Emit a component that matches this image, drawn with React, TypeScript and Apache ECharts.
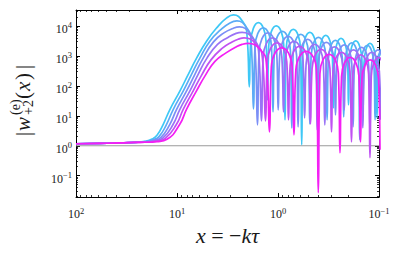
import React, { useEffect, useRef } from 'react';
import * as echarts from 'echarts';

// ---------- axes ----------
const X_RANGE = [0.1, 100];
const Y_RANGE = [0.0195, 34000];
const X_MAJOR = [0.1, 1, 10, 100];
const X_MAJOR_EXP = ['−1', '0', '1', '2'];
const X_MINOR = [0.2, 0.3, 0.4, 0.5, 0.6, 0.7, 0.8, 0.9, 2, 3, 4, 5, 6, 7, 8, 9, 20, 30, 40, 50, 60, 70, 80, 90];
const Y_MAJOR = [0.1, 1, 10, 100, 1000, 10000];
const Y_MAJOR_EXP = ['−1', '0', '1', '2', '3', '4'];
const Y_MINOR = [
  0.02, 0.03, 0.04, 0.05, 0.06, 0.07, 0.08, 0.09,
  0.2, 0.3, 0.4, 0.5, 0.6, 0.7, 0.8, 0.9,
  2, 3, 4, 5, 6, 7, 8, 9,
  20, 30, 40, 50, 60, 70, 80, 90,
  200, 300, 400, 500, 600, 700, 800, 900,
  2000, 3000, 4000, 5000, 6000, 7000, 8000, 9000,
  20000, 30000,
];

// ---------- reference line |w| = 1 ----------
const UNITY_X = [100, 0.1];
const UNITY_Y = 1;

// ---------- curves (x, |w|) ----------
const CURVE_COLORS = ['#3ec8f6', '#5cabf6', '#7b8ff6', '#9a73f6', '#c052f3', '#f41ff4'];

const W_0: [number, number][] = [
  [100, 1.166], [57.9, 1.202], [36.7, 1.24], [26.05, 1.298], [20.74, 1.413], [17.68, 1.672], [15.78, 2.239],
  [13.76, 5.01], [11.73, 16.5], [9.34, 68.1], [7.78, 232.6], [6.38, 858], [5.08, 3162], [4.05, 8577],
  [3.22, 18480], [2.76, 23260],
  [2.22, 13590], [2.032, 5412], [1.924, 92.6],
  [1.863, 2997], [1.564, 12880], [1.311, 2997], [1.27, 34.1],
  [1.233, 2326], [1.041, 10000], [0.878, 2326], [0.8525, 7.36],
  [0.8286, 1778], [0.7047, 7643], [0.5993, 1778], [0.5824, 1.08],
  [0.5668, 1413], [0.4838, 6072], [0.4128, 1413], [0.4018, 10.8],
  [0.391, 1122], [0.3367, 4825], [0.2901, 1122], [0.2822, 18.5],
  [0.2752, 891], [0.2378, 3831], [0.2055, 891], [0.2004, 23.3],
  [0.1955, 736], [0.1699, 3162], [0.1477, 736], [0.144, 13.6],
  [0.1406, 607], [0.1228, 2610], [0.1072, 607], [0.1047, 8.58],
  [0.1023, 521], [0.0897, 2239],
];

const W_1: [number, number][] = [
  [100, 1.166], [57.9, 1.202], [36.7, 1.24], [26.05, 1.298], [20.74, 1.38], [17.29, 1.585], [15.08, 2.026],
  [12.76, 5.01], [10.88, 16.5], [8.66, 68.1], [7.22, 232.6], [5.92, 858], [4.71, 3162], [3.71, 7356],
  [2.99, 12590], [2.55, 14680],
  [2.032, 8577], [1.851, 3415], [1.748, 17.1],
  [1.691, 1995], [1.4, 8577], [1.159, 1995], [1.121, 13.6],
  [1.085, 1525], [0.9046, 6556], [0.754, 1525], [0.7302, 3.98],
  [0.7079, 1212], [0.5946, 5210], [0.4995, 1212], [0.4843, 5.41],
  [0.4702, 962], [0.3978, 4137], [0.3363, 962], [0.3265, 7.36],
  [0.3173, 764], [0.2702, 3285], [0.2301, 764], [0.2236, 9.26],
  [0.2176, 631], [0.1864, 2712], [0.1596, 631], [0.1553, 1.585],
  [0.1512, 521], [0.1302, 2239], [0.1122, 521], [0.1093, 7.36],
  [0.1066, 447], [0.0922, 1920],
];

const W_2: [number, number][] = [
  [100, 1.166], [57.9, 1.202], [36.7, 1.24], [26.05, 1.298], [20.74, 1.359], [16.9, 1.526], [14.4, 1.92],
  [11.84, 5.01], [10.09, 16.5], [8.04, 68.1], [6.69, 232.6], [5.49, 858], [4.35, 2929], [3.43, 5843],
  [2.79, 8254], [2.41, 9261],
  [1.881, 5412], [1.697, 2154], [1.596, 5.01],
  [1.54, 1359], [1.26, 5843], [1.031, 1359], [0.9954, 15.85],
  [0.962, 1039], [0.7933, 4467], [0.6543, 1039], [0.6324, 4.3],
  [0.6119, 825], [0.5086, 3548], [0.4227, 825], [0.4091, 3.41],
  [0.3966, 655], [0.3321, 2818], [0.2782, 655], [0.2696, 10.8],
  [0.2616, 541], [0.2206, 2326], [0.186, 541], [0.1805, 4.3],
  [0.1753, 447], [0.1489, 1920], [0.1264, 447], [0.1228, 3.41],
  [0.1195, 369], [0.1021, 1585], [0.0874, 369],
];

const W_3: [number, number][] = [
  [100, 1.166], [57.9, 1.202], [36.7, 1.24], [26.05, 1.298], [20.74, 1.339], [16.51, 1.468], [13.76, 1.82],
  [10.98, 5.01], [9.36, 16.5], [7.45, 68.1], [6.21, 232.6], [5.07, 825], [3.97, 2417], [3.13, 4137],
  [2.6, 5623], [2.27, 6072],
  [1.74, 3575], [1.556, 1413], [1.457, 6.81],
  [1.403, 926], [1.134, 3981], [0.916, 926], [0.882, 13.6],
  [0.8509, 708], [0.6936, 3043], [0.5652, 708], [0.5452, 8.58],
  [0.5266, 562], [0.433, 2417], [0.356, 562], [0.344, 5.01],
  [0.3328, 464], [0.2758, 1995], [0.2285, 464], [0.2211, 15.85],
  [0.2141, 369], [0.1789, 1585], [0.1494, 369], [0.1447, 3.98],
  [0.1403, 304], [0.118, 1308], [0.0992, 304], [0.0962, 7.36],
];

const W_4: [number, number][] = [
  [100, 1.166], [57.9, 1.202], [36.7, 1.24], [26.05, 1.298], [20.74, 1.318], [16.14, 1.423], [13.15, 1.738],
  [10.18, 5.01], [8.68, 16.5], [6.91, 68.1], [5.72, 224], [4.61, 736], [3.58, 1778], [2.85, 2929],
  [2.43, 3687], [2.17, 3981],
  [1.618, 2326], [1.43, 926], [1.329, 6.81],
  [1.279, 631], [1.023, 2712], [0.8183, 631], [0.787, 7.36],
  [0.7582, 482], [0.6124, 2073], [0.495, 482], [0.4767, 5.41],
  [0.4597, 383], [0.3753, 1647], [0.3061, 383], [0.2953, 2.93],
  [0.2854, 304], [0.2351, 1308], [0.1937, 304], [0.1873, 1.359],
  [0.1813, 251], [0.1516, 1080], [0.1268, 251], [0.1228, 0.398],
  [0.1192, 207], [0.1006, 891], [0.0849, 207],
];

const W_5: [number, number][] = [
  [100, 1.166], [57.9, 1.202], [36.7, 1.24], [26.05, 1.298], [20.74, 1.308], [15.78, 1.38], [12.56, 1.647],
  [9.445, 5.01], [8.05, 16.5], [6.41, 68.1], [5.28, 215], [4.21, 655], [3.27, 1259], [2.6, 1995],
  [2.27, 2417], [1.98, 2610],
  [1.477, 1537], [1.306, 607], [1.214, 2.93],
  [1.164, 430], [0.9182, 1848], [0.7241, 430], [0.6944, 2.326],
  [0.6662, 329], [0.5263, 1413], [0.4159, 329], [0.399, 0.0271],
  [0.3845, 261], [0.3116, 1122], [0.2525, 261], [0.2433, 0.584],
  [0.2349, 207], [0.1926, 891], [0.1579, 207], [0.1525, 1.359],
  [0.1475, 171], [0.1221, 736], [0.1011, 171], [0.0977, 0.736],
];

const CURVES = [W_0, W_1, W_2, W_3, W_4, W_5];

const SERIF = '"Liberation Serif", "Times New Roman", serif';
const INK = '#1a1a1a';

const tickRich = {
  b: { fontSize: 12, lineHeight: 14, fontFamily: SERIF, color: INK, verticalAlign: 'bottom' },
  s: { fontSize: 8.5, lineHeight: 8, fontFamily: SERIF, color: INK, verticalAlign: 'top' },
};

function expLabel(values: number[], exps: string[]) {
  return (v: number) => {
    const i = values.findIndex((m) => Math.abs(m - v) / m < 1e-6);
    return i < 0 ? '' : `{b|10}{s|${exps[i]}}`;
  };
}

export default function App() {
  const ref = useRef<HTMLDivElement>(null);
  useEffect(() => {
    if (!ref.current) return;
    const chart = echarts.init(ref.current, null, { renderer: 'svg' });

    const frameLine = { show: true, onZero: false, lineStyle: { color: '#000', width: 1 } };
    const majorTick = (vals: number[]) => ({
      show: true, inside: true, length: 4, customValues: vals, lineStyle: { color: '#000', width: 1 },
    });
    const minorTick = (vals: number[]) => ({
      show: true, inside: true, length: 2, customValues: vals, lineStyle: { color: '#000', width: 0.8 },
    });
    const xBase = {
      type: 'log', logBase: 10, min: X_RANGE[0], max: X_RANGE[1], inverse: true, gridIndex: 0,
      splitLine: { show: false }, minorTick: { show: false }, minorSplitLine: { show: false },
    };
    const yBase = {
      type: 'log', logBase: 10, min: Y_RANGE[0], max: Y_RANGE[1], gridIndex: 0,
      splitLine: { show: false }, minorTick: { show: false }, minorSplitLine: { show: false },
    };
    const noLabel = { show: false };

    const option: any = {
      animation: false,
      backgroundColor: '#fff',
      grid: { left: 76, top: 10, width: 303, height: 187, containLabel: false, show: false },
      xAxis: [
        {
          ...xBase, position: 'bottom', axisLine: frameLine, axisTick: majorTick(X_MAJOR),
          axisLabel: {
            show: true, customValues: X_MAJOR, margin: 9, formatter: expLabel(X_MAJOR, X_MAJOR_EXP), rich: tickRich,
          },
          name: '{i|x} = −{i|kτ}', nameLocation: 'middle', nameGap: 23,
          nameTextStyle: {
            fontSize: 22, fontFamily: SERIF, color: INK,
            rich: { i: { fontSize: 22, fontFamily: SERIF, fontStyle: 'italic', color: INK } },
          },
        },
        { ...xBase, position: 'top', axisLine: frameLine, axisTick: majorTick(X_MAJOR), axisLabel: noLabel },
        { ...xBase, position: 'bottom', axisLine: { show: false, onZero: false }, axisTick: minorTick(X_MINOR), axisLabel: noLabel },
        { ...xBase, position: 'top', axisLine: { show: false, onZero: false }, axisTick: minorTick(X_MINOR), axisLabel: noLabel },
      ],
      yAxis: [
        {
          ...yBase, position: 'left', axisLine: frameLine, axisTick: majorTick(Y_MAJOR),
          axisLabel: {
            show: true, customValues: Y_MAJOR, margin: 4, padding: [4, 0, 0, 0],
            formatter: expLabel(Y_MAJOR, Y_MAJOR_EXP), rich: tickRich,
          },
        },
        { ...yBase, position: 'right', axisLine: frameLine, axisTick: majorTick(Y_MAJOR), axisLabel: noLabel },
        { ...yBase, position: 'left', axisLine: { show: false, onZero: false }, axisTick: minorTick(Y_MINOR), axisLabel: noLabel },
        { ...yBase, position: 'right', axisLine: { show: false, onZero: false }, axisTick: minorTick(Y_MINOR), axisLabel: noLabel },
      ],
      graphic: [
        {
          type: 'group', x: 23, y: 136, rotation: Math.PI / 2, silent: true,
          children: [
            { type: 'text', x: 0, y: 0, style: { text: '|', fontSize: 21, fontFamily: SERIF, fill: INK, verticalAlign: 'middle' } },
            { type: 'text', x: 5, y: 0, style: { text: 'w', fontSize: 21, fontStyle: 'italic', fontFamily: SERIF, fill: INK, verticalAlign: 'middle' } },
            { type: 'text', x: 21, y: -8, style: { text: '(e)', fontSize: 14, fontFamily: SERIF, fill: INK, verticalAlign: 'middle' } },
            { type: 'text', x: 21, y: 5, style: { text: '+2', fontSize: 14, fontFamily: SERIF, fill: INK, verticalAlign: 'middle' } },
            { type: 'text', x: 37, y: 0, style: { text: '(', fontSize: 21, fontFamily: SERIF, fill: INK, verticalAlign: 'middle' } },
            { type: 'text', x: 45, y: 0, style: { text: 'x', fontSize: 21, fontStyle: 'italic', fontFamily: SERIF, fill: INK, verticalAlign: 'middle' } },
            { type: 'text', x: 56, y: 0, style: { text: ')', fontSize: 21, fontFamily: SERIF, fill: INK, verticalAlign: 'middle' } },
            { type: 'text', x: 67, y: 0, style: { text: '|', fontSize: 21, fontFamily: SERIF, fill: INK, verticalAlign: 'middle' } },
          ],
        },
      ],
      series: [
        {
          type: 'line', name: 'unity', xAxisIndex: 0, yAxisIndex: 0, symbol: 'none', silent: true, z: 1,
          data: UNITY_X.map((x) => [x, UNITY_Y]),
          lineStyle: { color: '#9a9a9a', width: 1.2 },
        },
        ...CURVES.map((d, i) => ({
          type: 'line', name: `w${i}`, xAxisIndex: 0, yAxisIndex: 0, symbol: 'none', silent: true,
          smooth: 0.5, z: 2 + i, data: d,
          lineStyle: { color: CURVE_COLORS[i], width: 1.7 },
        })),
      ],
    };
    chart.setOption(option);
    return () => chart.dispose();
  }, []);

  return <div ref={ref} style={{ position: 'fixed', left: 0, top: 0, width: 399, height: 264 }} />;
}
